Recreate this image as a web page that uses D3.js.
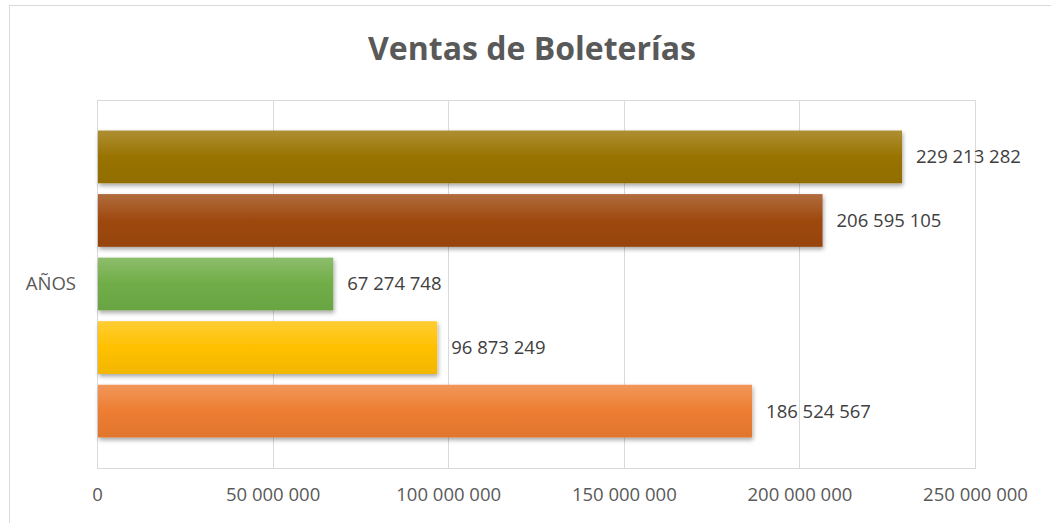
<!DOCTYPE html>
<html>
<head>
<meta charset="utf-8">
<script src="https://cdn.jsdelivr.net/npm/d3@7"></script>
<style>
    body { margin: 0; background: #fff; }
    svg { display: block; font-family: "Open Sans", "Noto Sans", sans-serif; }
</style>
</head>
<body>
<svg id="chart" width="1051" height="523"></svg>
<script>
// chart data
const categories = ["AÑOS"];
const seriesNames = ["Serie 1", "Serie 2", "Serie 3", "Serie 4", "Serie 5"];
const seriesValues = [186524567, 96873249, 67274748, 206595105, 229213282];
const seriesColors = ["#ED7D31", "#FFC000", "#70AD47", "#9E480E", "#997300"];
const tickValues = [0, 50000000, 100000000, 150000000, 200000000, 250000000];

const margin = { top: 100, right: 76, bottom: 55, left: 97 };

let svg = d3.select("#chart");
let width = +svg.attr("width") - margin.left - margin.right;
let height = +svg.attr("height") - margin.top - margin.bottom;

let locale = d3.formatLocale({ decimal: ",", thousands: " ", grouping: [3], currency: ["$", ""] });
let fmt = locale.format(",");

let defs = svg.append("defs");

// gradients, lighter on top like the office style
seriesColors.forEach(function (c, i) {
    let base = d3.rgb(c);
    let grad = defs.append("linearGradient")
        .attr("id", "grad" + i)
        .attr("x1", 0).attr("y1", 0).attr("x2", 0).attr("y2", 1);
    grad.append("stop").attr("offset", "0%").attr("stop-color", d3.interpolateRgb(base, "#fff")(0.2));
    grad.append("stop").attr("offset", "50%").attr("stop-color", base.formatHex());
    grad.append("stop").attr("offset", "100%").attr("stop-color", base.darker(0.15).formatHex());
});

let shadow = defs.append("filter").attr("id", "shadow")
    .attr("x", "-5%").attr("y", "-20%").attr("width", "110%").attr("height", "150%");
shadow.append("feDropShadow")
    .attr("dx", 1).attr("dy", 2.5).attr("stdDeviation", 2)
    .attr("flood-color", "#000").attr("flood-opacity", 0.35);

// outer chart border
svg.append("rect")
    .attr("x", 9.5).attr("y", 5.5)
    .attr("width", 1060).attr("height", 540)
    .attr("fill", "none").attr("stroke", "#d9d9d9").attr("stroke-width", 1);

// title
svg.append("text")
    .attr("x", 532).attr("y", 60)
    .attr("text-anchor", "middle")
    .attr("font-size", 32).attr("font-weight", "bold")
    .attr("fill", "#595959")
    .text("Ventas de Boleterías");

let g = svg.append("g").attr("transform", "translate(" + margin.left + "," + margin.top + ")");

let xScale = d3.scaleLinear()
    .domain([0, 250000000])
    .range([0, width]);

let yCat = d3.scaleBand()
    .domain(categories)
    .range([0, height]);

// series drawn bottom-up, first series at the bottom
let ySeries = d3.scaleBand()
    .domain(d3.range(seriesNames.length).reverse())
    .range([0, yCat.bandwidth()])
    .paddingInner(0.17)
    .paddingOuter(0.48);

// gridlines
g.append("g")
    .selectAll("line")
    .data(tickValues)
    .join("line")
    .attr("x1", d => Math.round(xScale(d)) + 0.5)
    .attr("x2", d => Math.round(xScale(d)) + 0.5)
    .attr("y1", 0)
    .attr("y2", height)
    .attr("stroke", "#d9d9d9");

// plot area border
g.append("rect")
    .attr("x", 0.5).attr("y", 0.5)
    .attr("width", width).attr("height", height)
    .attr("fill", "none").attr("stroke", "#d9d9d9");

// x axis labels
let xAxis = d3.axisBottom(xScale)
    .tickValues(tickValues)
    .tickSize(0)
    .tickPadding(20)
    .tickFormat(fmt);

let xAxisGroup = g.append("g")
    .attr("transform", "translate(0," + height + ")")
    .call(xAxis);
xAxisGroup.select(".domain").remove();
xAxisGroup.selectAll("text")
    .attr("font-size", 18.5)
    .attr("font-family", "Open Sans, sans-serif")
    .attr("fill", "#595959");

// category label
let yAxis = d3.axisLeft(yCat).tickSize(0).tickPadding(21);
let yAxisGroup = g.append("g").call(yAxis);
yAxisGroup.select(".domain").remove();
yAxisGroup.selectAll("text")
    .attr("font-size", 18.5)
    .attr("font-family", "Open Sans, sans-serif")
    .attr("fill", "#595959");

// bars
for (let c of categories) {
    let cg = g.append("g").attr("transform", "translate(0," + yCat(c) + ")");
    let idx = d3.range(seriesNames.length);

    cg.selectAll("rect.bar")
        .data(idx)
        .join("rect")
        .attr("class", "bar")
        .attr("x", xScale(0) + 1)
        .attr("y", i => ySeries(i))
        .attr("width", i => xScale(seriesValues[i]) - xScale(0) - 1)
        .attr("height", ySeries.bandwidth())
        .attr("fill", i => "url(#grad" + i + ")")
        .attr("filter", "url(#shadow)");

    cg.selectAll("text.label")
        .data(idx)
        .join("text")
        .attr("class", "label")
        .attr("x", i => xScale(seriesValues[i]) + 14)
        .attr("y", i => ySeries(i) + ySeries.bandwidth() / 2)
        .attr("dy", "0.35em")
        .attr("font-size", 18.5)
        .attr("fill", "#404040")
        .text(i => fmt(seriesValues[i]));
}
</script>
</body>
</html>
